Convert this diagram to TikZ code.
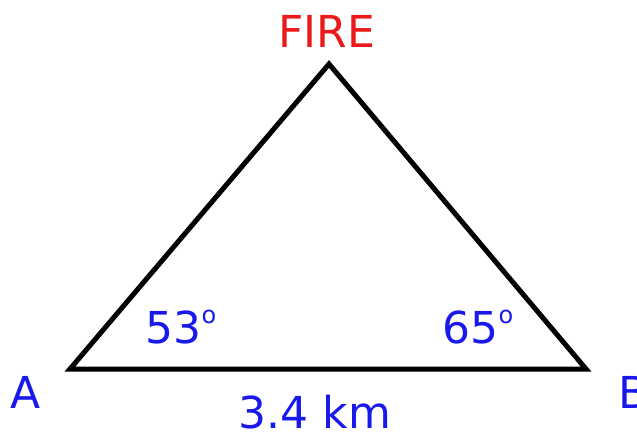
\documentclass[tikz,border=0pt]{standalone}
\usepackage{fontspec}
\setmainfont{DejaVu Sans}
\definecolor{lblblue}{RGB}{25,25,235}
\definecolor{lblred}{RGB}{235,25,25}
\newcommand{\degsup}{\raisebox{20pt}{\fontsize{24}{24}\selectfont o}}
\begin{document}
\begin{tikzpicture}[x=1pt,y=-1pt,
  lbl/.style={font=\fontsize{44}{44}\selectfont, inner sep=0pt, anchor=base},
  bluelbl/.style={lbl, text=lblblue},
  side/.style={draw=black, line width=5pt, line join=miter}]
\useasboundingbox[fill=white] (0,0) rectangle (637,439);
\coordinate (F) at (329,64);
\coordinate (A) at (70,369);
\coordinate (B) at (586,369);
\draw[side] (A) -- (F) -- (B) -- cycle;
\node[lbl, text=lblred] (fire) at (327,47) {FIRE};
\node[bluelbl] (la) at (26,408) {A};
\node[bluelbl, anchor=base west] (lb) at (618,408) {B};
\node[bluelbl] (a53) at (181,343) {53\degsup};
\node[bluelbl] (a65) at (478,343) {65\degsup};
\node[bluelbl] (dist) at (315,428) {3.4 km};
\end{tikzpicture}
\end{document}
